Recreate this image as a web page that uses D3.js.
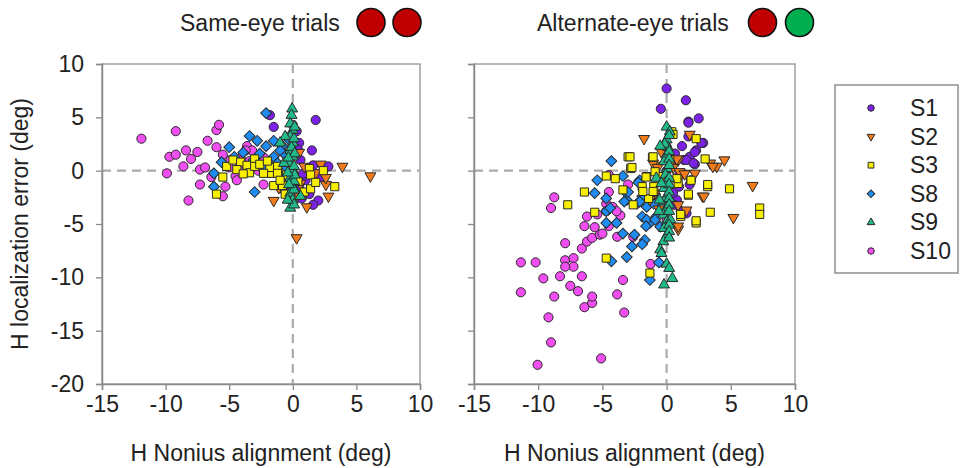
<!DOCTYPE html>
<html>
<head>
<meta charset="utf-8">
<script src="https://cdn.jsdelivr.net/npm/d3@7"></script>
<style>
  html, body { margin: 0; padding: 0; background: #fff; }
  svg { display: block; font-family: "Liberation Sans", Arial, sans-serif; }
</style>
</head>
<body>
<svg id="chart" width="962" height="468"></svg>
<script>
// Subjects, colours and marker shapes
const subjects = ["S1", "S2", "S3", "S8", "S9", "S10"];
const subjectColors = ["#7b22e6", "#f27b1c", "#f7ee00", "#1f8cf2", "#22b98a", "#f04ef0"];
const subjectShapes = ["circle", "triangleDown", "square", "diamond", "triangleUp", "circle"];

// Axis ticks
const xTicks = [-15, -10, -5, 0, 5, 10];
const yTicks = [10, 5, 0, -5, -10, -15, -20];

// Panel titles and the eye indicator colours
const panelTitles = ["Same-eye trials", "Alternate-eye trials"];
const eyeColors = [["#c00000", "#c00000"], ["#c00000", "#00b050"]];

// Same-eye trials: [H Nonius alignment, H localization error] per subject
const sameS1 = [[1.8,4.75],[-1.5,4.1],[-1.8,5.2],[1.5,1.9],[2.0,-2.8],[1.6,-3.2],[0.5,2.6],[0.3,3.7],[0.6,1.0],[1.0,-0.9],[2.8,0.4],[2.2,-0.6],[-0.7,-1.8],[0.5,-1.5],[0.1,-0.9],[1.1,0.1],[-0.2,2.9],[1.3,-2.2],[0.8,-0.3],[0.4,2.0],[0.7,-2.6],[-0.5,-1.2],[1.6,0.5]];
const sameS2 = [[3.9,0.4],[6.1,-0.5],[0.3,-6.3],[-1.5,-2.8],[1.1,-3.4],[2.8,-2.4],[2.6,-1.3],[2.6,-0.65],[2.2,0.6],[0.5,1.7],[0.9,0.4],[0.3,-2.4],[-0.7,-0.55],[1.8,-0.2],[-1.1,-1.6],[0.6,-1.2]];
const sameS3 = [[-5.5,-0.6],[-6.0,-2.2],[-5.2,0.4],[-4.7,1.0],[-4.1,0.8],[-3.6,0.5],[-3.4,-0.2],[-3.0,1.1],[-3.0,0.4],[-1.8,-0.25],[-1.8,0.3],[-1.2,0.4],[-1.5,-1.4],[-0.8,-1.4],[-0.6,-2.2],[-0.2,-0.7],[-0.1,0.1],[0.9,-2.0],[1.4,-1.7],[1.3,0.2],[1.4,-0.4],[1.8,-1.1],[2.4,0],[3.3,-1.5],[-1.2,-0.25],[-2.3,-0.25],[-4.4,0.1],[-2.6,0.6],[-0.5,-0.4],[-1.0,-0.9],[0.4,-1.0],[-2.0,0.9],[-3.9,-0.3]];
const sameS8 = [[-2.1,5.4],[-3.4,3.25],[-2.8,2.8],[-2.1,2.3],[-1.5,2.8],[-0.8,2.3],[-5.0,2.2],[-5.6,0.8],[-6.2,-0.25],[-6.2,-1.5],[-3.0,-2.0],[-1.5,1.3],[-2.2,0.5],[-1.2,0.7],[-3.9,1.7],[-4.6,1.3],[-3.1,1.0],[-0.7,1.6],[-0.3,2.9],[-1.0,1.9],[-2.6,1.6],[-0.5,0.3]];
const sameS9 = [[-0.05,5.8],[-0.1,5.2],[-0.2,4.4],[0,3.8],[-0.2,3.2],[0,2.6],[-0.2,1.9],[0,1.3],[-0.3,0.7],[0,0.05],[-0.2,-0.7],[0,-1.5],[-0.2,-2.1],[0,-2.75],[-0.2,-3.5],[0.1,-3.2],[-0.7,0.7],[-0.6,3.2],[-1.0,2.6],[0.6,-2.4],[-0.4,-2.75],[0.1,-1.0],[-0.1,2.2],[0.15,4.1],[0.1,3.0],[0.15,1.6],[0.1,0.4],[0.15,-0.4],[0.1,-1.8],[-0.35,1.2],[-0.4,-0.2],[-0.3,-1.3]];
const sameS10 = [[-11.9,3.0],[-9.2,3.7],[-9.7,1.3],[-9.2,1.5],[-9.9,-0.25],[-8.4,1.9],[-8.0,1.1],[-7.5,1.75],[-8.6,0.4],[-7.3,0.1],[-8.2,-2.8],[-7.3,-1.3],[-6.7,2.8],[-6.0,3.8],[-5.8,4.3],[-6.0,2.2],[-6.9,0.3],[-6.4,-0.6],[-5.3,-1.5],[-5.5,-2.4],[-5.5,1.5],[-4.9,1.0],[-4.5,-0.5],[-4.4,-0.9],[-4.3,0.2],[-3.6,2.3],[-3.2,1.9],[-4.1,1.2],[-3.7,1.9],[-2.7,0],[-2.3,1.25],[-2.3,-1.3],[0,4.3],[-5.0,0.3],[-3.4,0.9]];

// Alternate-eye trials
const altS1 = [[0,7.7],[1.5,6.6],[-0.45,5.8],[1.7,4.6],[2.5,4.9],[1.7,3.2],[2.85,2.6],[2.3,1.9],[1.8,1.3],[2.2,0.6],[1.35,1.0],[0.65,1.6],[1.8,-1.3],[0.8,-2.75],[1.55,-4.0],[0,2.25],[0.9,-0.55],[0.5,-2.1],[1.2,2.3],[1.7,4.5],[2.2,1.75],[1.55,1.0],[2.1,0.7],[0.4,0.55],[1.2,-0.25],[1.9,-0.9],[0.97,-1.5],[0.6,-3.2],[1.1,-3.8],[2.7,2.6]];
const altS2 = [[-1.75,3.0],[1.8,3.4],[-0.4,1.75],[-0.8,0.5],[0.9,1.0],[1.15,-0.25],[2.2,-0.25],[3.4,0.7],[3.9,0.4],[4.5,1.0],[2.8,-2.4],[5.2,-4.4],[6.7,-1.4],[0.9,-5.5],[1.55,-3.7],[0.9,-3.2],[0.5,0.3],[-0.9,-2.1],[-1.05,0.7],[-0.7,0.3],[0.8,1.1],[1.0,-0.1],[1.4,-0.3],[3.6,0.4],[2.9,-2.4],[0.9,-5.2],[-1.3,-2.7],[-0.6,-3.6]];
const altS3 = [[0.4,3.65],[2.3,3.0],[-3.0,1.3],[-1.1,1.25],[-2.8,0.2],[-4.7,-0.5],[-6.4,-2.0],[-7.7,-3.2],[-5.6,-3.9],[-4.7,-8.2],[-1.3,-9.6],[-1.55,-0.55],[-1.0,-1.5],[-3.4,-1.8],[-1.9,-1.5],[-0.5,-0.55],[0.9,-1.2],[1.7,-2.3],[1.1,-4.3],[2.3,-4.9],[3.2,-1.5],[3.4,-3.9],[4.9,-1.7],[7.25,-3.5],[7.25,-4.1],[3.0,1.1],[1.9,-0.9],[-2.6,-3.2],[0.25,1.0],[-1.4,-2.6],[-2.85,1.3],[-1.05,1.3],[-4.0,-0.75],[-2.7,0.3],[-1.6,-0.6],[-0.9,-0.1],[0.8,-0.75],[1.7,-2.2],[3.2,-1.3],[2.3,-4.7],[1.1,-4.1],[-1.85,-1.95],[-1.05,-1.95],[0.5,3.4]];
const altS8 = [[-4.3,0.9],[-5.4,-0.9],[-5.6,-2.1],[-3.4,-0.5],[-4.7,-2.6],[-3.1,-2.75],[-2.3,-3.1],[-1.9,-2.4],[-1.55,-3.4],[-1.9,-4.3],[-1.3,-4.9],[-0.8,-4.3],[-1.0,-3.1],[-2.7,-7.1],[-3.1,-8.1],[-4.3,-8.5],[-1.3,-10.25],[-0.6,-8.6],[-1.7,-6.5],[-3.4,-5.9],[-3.9,-4.9],[-4.7,-4.9],[-4.7,-3.8],[-3.2,-2.0],[-2.1,-0.9],[-1.55,-4.6],[-0.5,-5.25],[-2.2,-1.1],[-3.0,-2.0],[-2.1,-2.9],[-3.3,-2.9],[-0.9,-2.2],[-0.9,-4.6],[-1.6,-5.2],[-2.5,-6.0],[-4.4,-3.5],[-1.9,-6.9]];
const altS9 = [[0,4.1],[0.25,3.65],[0,2.9],[0.1,2.2],[0,1.5],[-0.2,0.85],[0.05,0.2],[-0.1,-0.4],[0,-1.0],[-0.2,-1.65],[0.05,-2.3],[-0.2,-2.9],[0,-3.5],[-0.25,-4.15],[0,-4.8],[-0.2,-5.4],[0.05,-6.0],[-0.25,-6.65],[-0.5,-7.4],[0,-8.75],[0.2,-9.15],[0.45,-10.1],[-0.2,-10.7],[-0.4,-7.75],[0.3,-4.6],[-0.55,-2.75],[-0.8,-0.7],[0.2,3.3],[-0.15,2.5],[0.2,1.8],[0.2,1.1],[0.2,0.5],[0.2,-0.7],[0.2,-1.3],[0.2,-2.0],[0.2,-2.6],[0.2,-3.2],[0.2,-3.8],[0.2,-5.1],[0.2,-5.7],[0.2,-6.3],[-0.5,2.3],[-0.4,-1.2],[-0.6,-3.8]];
const altS10 = [[-8.75,-2.5],[-9.0,-3.5],[-11.35,-8.6],[-10.2,-8.6],[-11.35,-11.4],[-9.6,-10.1],[-9.2,-13.75],[-9.0,-16.1],[-10.05,-18.2],[-8.75,-11.8],[-7.9,-6.8],[-7.9,-8.4],[-7.25,-8.2],[-8.3,-9.9],[-7.5,-10.8],[-6.9,-11.3],[-6.6,-9.9],[-7.25,-9.0],[-7.9,-9.0],[-6.6,-7.3],[-6.2,-6.65],[-6.4,-5.2],[-6.2,-4.3],[-5.6,-5.3],[-5.8,-6.3],[-5.2,-6.0],[-5.4,-4.1],[-4.7,-3.8],[-4.7,-3.1],[-4.5,-2.0],[-4.5,-0.4],[-4.2,-3.4],[-3.85,-6.2],[-3.6,-4.2],[-3.0,-1.3],[-2.6,-6.2],[-3.4,-10.25],[-3.85,-11.6],[-3.3,-13.3],[-6.4,-12.8],[-5.8,-12.4],[-5.8,-11.8],[-5.1,-17.6],[-1.25,-8.75],[0,0],[0,-4.6],[-3.9,-3.8],[-4.5,-5.2],[-5.0,-5.9]];

const sameTrials = [sameS1, sameS2, sameS3, sameS8, sameS9, sameS10];
const altTrials = [altS1, altS2, altS3, altS8, altS9, altS10];

// Series drawing order (last drawn sits on top)
const drawOrder = [5, 0, 3, 1, 2, 4];

const svg = d3.select("#chart");
const FONT = 23;

const panels = [
  { left: 102, right: 420, data: sameTrials },
  { left: 474, right: 795, data: altTrials }
];
const plotTop = 64, plotBottom = 384;

const y = d3.scaleLinear().domain([-20, 10]).range([plotBottom, plotTop]);

function markerPath(shape, big) {
  const k = big ? 1 : 0.5;
  switch (shape) {
    case "circle": return d3.symbol(d3.symbolCircle, 66 * k)();
    case "square": return d3.symbol(d3.symbolSquare, 66 * k)();
    case "diamond": return d3.symbol(d3.symbolSquare, 58 * k)();
    case "triangleUp":
    case "triangleDown": return d3.symbol(d3.symbolTriangle, 52 * k)();
  }
}
function markerRotate(shape) {
  if (shape === "diamond") return 45;
  if (shape === "triangleDown") return 180;
  return 0;
}

panels.forEach((p, pi) => {
  const x = d3.scaleLinear().domain([-15, 10]).range([p.left, p.right]);
  const g = svg.append("g");

  // plot frame
  g.append("rect")
    .attr("x", p.left).attr("y", plotTop)
    .attr("width", p.right - p.left).attr("height", plotBottom - plotTop)
    .attr("fill", "none").attr("stroke", "#a0a0a0").attr("stroke-width", 1.5);

  // dashed zero lines
  g.append("line")
    .attr("x1", p.left).attr("x2", p.right)
    .attr("y1", y(0)).attr("y2", y(0))
    .attr("stroke", "#ababab").attr("stroke-width", 2.2).attr("stroke-dasharray", "9,6");
  g.append("line")
    .attr("x1", x(0)).attr("x2", x(0))
    .attr("y1", plotTop).attr("y2", plotBottom)
    .attr("stroke", "#ababab").attr("stroke-width", 2.2).attr("stroke-dasharray", "9,6");

  // x axis
  const xAxis = d3.axisBottom(x).tickValues(xTicks).tickSize(6).tickPadding(6).tickFormat(d3.format("d"));
  const xg = g.append("g").attr("transform", `translate(0,${plotBottom})`).call(xAxis);
  xg.select(".domain").attr("stroke", "#8a8a8a").attr("stroke-width", 1.5);
  xg.selectAll(".tick line").attr("stroke", "#8a8a8a").attr("stroke-width", 1.3);
  xg.selectAll(".tick text")
    .attr("font-size", FONT).attr("fill", "#222")
    .attr("font-family", "'Liberation Sans', Arial, sans-serif")
    .text(d => d < 0 ? "-" + Math.abs(d) : String(d));

  // y axis (labels only on the first panel)
  if (pi === 0) {
    const yAxis = d3.axisLeft(y).tickValues(yTicks).tickSize(6).tickPadding(12);
    const yg = g.append("g").attr("transform", `translate(${p.left},0)`).call(yAxis);
    yg.select(".domain").attr("stroke", "#8a8a8a").attr("stroke-width", 1.5);
    yg.selectAll(".tick line").attr("stroke", "#8a8a8a").attr("stroke-width", 1.3);
    yg.selectAll(".tick text")
      .attr("font-size", FONT).attr("fill", "#222")
      .attr("font-family", "'Liberation Sans', Arial, sans-serif")
      .text(d => d < 0 ? "-" + Math.abs(d) : String(d));
  } else {
    const yAxis = d3.axisLeft(y).tickValues(yTicks).tickSize(6).tickFormat("");
    const yg = g.append("g").attr("transform", `translate(${p.left},0)`).call(yAxis);
    yg.select(".domain").attr("stroke", "#8a8a8a").attr("stroke-width", 1.5);
    yg.selectAll(".tick line").attr("stroke", "#8a8a8a").attr("stroke-width", 1.3);
  }

  // x axis title
  g.append("text")
    .attr("x", (p.left + p.right) / 2).attr("y", 461)
    .attr("text-anchor", "middle").attr("font-size", FONT).attr("fill", "#222")
    .text("H Nonius alignment (deg)");

  // data points
  drawOrder.forEach(si => {
    const shape = subjectShapes[si];
    g.append("g").selectAll("path")
      .data(p.data[si])
      .join("path")
      .attr("d", markerPath(shape, true))
      .attr("transform", d => `translate(${x(d[0])},${y(d[1])}) rotate(${markerRotate(shape)})`)
      .attr("fill", subjectColors[si])
      .attr("stroke", "#2a2a2a").attr("stroke-width", 1);
  });
});

// y axis title
svg.append("text")
  .attr("transform", `translate(28,${(plotTop + plotBottom) / 2}) rotate(-90)`)
  .attr("text-anchor", "middle").attr("font-size", FONT).attr("fill", "#222")
  .text("H localization error (deg)");

// panel titles with eye indicators
const titleLayout = [
  { x: 180, c: [371, 407] },
  { x: 537, c: [762.5, 799.5] }
];
titleLayout.forEach((t, i) => {
  svg.append("text")
    .attr("x", t.x).attr("y", 31)
    .attr("font-size", FONT).attr("fill", "#222")
    .text(panelTitles[i]);
  t.c.forEach((cx, j) => {
    svg.append("circle")
      .attr("cx", cx).attr("cy", 22.5).attr("r", 14)
      .attr("fill", eyeColors[i][j]).attr("stroke", "#111").attr("stroke-width", 1.6);
  });
});

// legend
const legend = svg.append("g");
legend.append("rect")
  .attr("x", 835).attr("y", 85).attr("width", 123).attr("height", 188)
  .attr("fill", "#fff").attr("stroke", "#8f8f8f").attr("stroke-width", 1.5);
subjects.forEach((name, i) => {
  const ly = 108 + i * 28.6;
  const shape = subjectShapes[i];
  legend.append("path")
    .attr("d", markerPath(shape, false))
    .attr("transform", `translate(871,${ly}) rotate(${markerRotate(shape)})`)
    .attr("fill", subjectColors[i]).attr("stroke", "#2a2a2a").attr("stroke-width", 1);
  legend.append("text")
    .attr("x", 910).attr("y", ly + 8)
    .attr("font-size", FONT).attr("fill", "#222")
    .text(name);
});
</script>
</body>
</html>
